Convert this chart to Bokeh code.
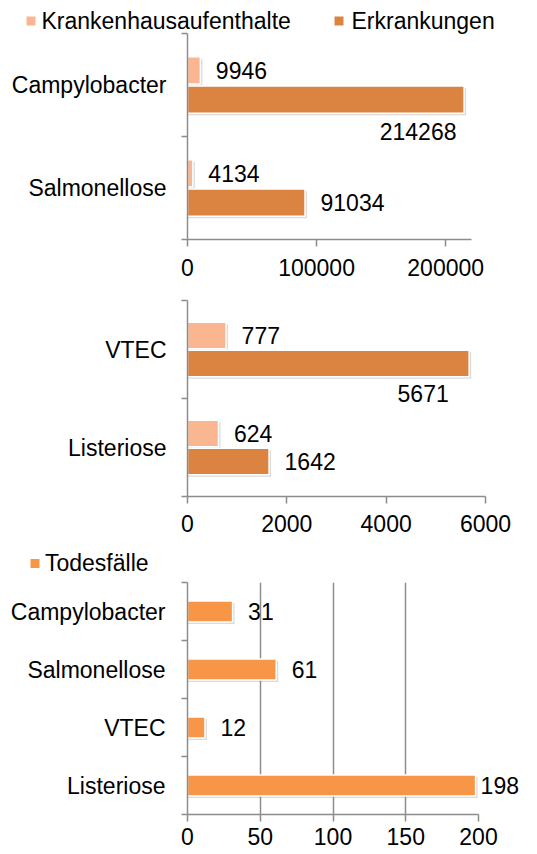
from bokeh.plotting import figure
from bokeh.layouts import column
from bokeh.models import (FixedTicker, Range1d, ColumnDataSource, BasicTickFormatter)
from bokeh.embed import file_html
from bokeh.resources import INLINE
from bokeh.core.properties import value

# ---------------- data ----------------
top_categories = ["Campylobacter", "Salmonellose"]
top_krankenhaus = [9946, 4134]
top_erkrankungen = [214268, 91034]
top_ticks = [0, 100000, 200000]
top_xmax = 220000

mid_categories = ["VTEC", "Listeriose"]
mid_krankenhaus = [777, 624]
mid_erkrankungen = [5671, 1642]
mid_ticks = [0, 2000, 4000, 6000]
mid_xmax = 6000

death_categories = ["Campylobacter", "Salmonellose", "VTEC", "Listeriose"]
death_values = [31, 61, 12, 198]
death_ticks = [0, 50, 100, 150, 200]
death_xmax = 200

series_names = ["Krankenhausaufenthalte", "Erkrankungen", "Todesfälle"]

# ---------------- style ----------------
FONT = "Liberation Sans"
FS = "23px"
AXIS_COLOR = "#8c8c8c"
C_KRANK = "#F9B691"
C_ERK = "#DB8441"
C_TOD = "#F79646"
LEFT = 187


def base_fig(fw, fh, br, bt, bb, xmax, ncat, cats, xticks, x_standoff, y_standoff):
    p = figure(frame_width=fw, frame_height=fh, x_range=Range1d(0, xmax), y_range=Range1d(0, ncat),
               output_backend="svg", toolbar_location=None, title=None,
               min_border_left=LEFT, min_border_right=br, min_border_top=bt, min_border_bottom=bb)
    p.outline_line_color = None
    p.xgrid.visible = False
    p.ygrid.visible = False
    centers = [ncat - i - 0.5 for i in range(ncat)]
    bounds = list(range(ncat + 1))
    xa = p.xaxis[0]
    xa.ticker = FixedTicker(ticks=xticks, minor_ticks=[])
    xa.formatter = BasicTickFormatter(use_scientific=False)
    xa.axis_line_color = AXIS_COLOR
    xa.axis_line_width = 1.5
    xa.major_tick_line_color = AXIS_COLOR
    xa.major_tick_line_width = 1.5
    xa.major_tick_out = 7
    xa.major_tick_in = 0
    xa.minor_tick_line_color = None
    xa.minor_tick_out = 0
    xa.major_label_standoff = x_standoff
    xa.major_label_text_font = FONT
    xa.major_label_text_font_size = FS
    xa.major_label_text_color = "black"
    ya = p.yaxis[0]
    ya.ticker = FixedTicker(ticks=centers, minor_ticks=bounds)
    ya.major_label_overrides = {c: name for c, name in zip(centers, cats)}
    ya.axis_line_color = AXIS_COLOR
    ya.axis_line_width = 1.5
    ya.major_tick_line_color = None
    ya.major_tick_out = 0
    ya.major_tick_in = 0
    ya.minor_tick_line_color = AXIS_COLOR
    ya.minor_tick_line_width = 1.5
    ya.minor_tick_out = 6
    ya.minor_tick_in = 0
    ya.major_label_standoff = y_standoff
    ya.major_label_text_font = FONT
    ya.major_label_text_font_size = FS
    ya.major_label_text_color = "black"
    return p, centers


def bars(p, ys, vals, h, color, px_x, px_y):
    sh = ColumnDataSource(dict(y=[y - 2 * px_y for y in ys], right=[v + 2 * px_x for v in vals]))
    p.hbar(y="y", left=0, right="right", height=h, source=sh,
           fill_color="#7f7f7f", fill_alpha=0.28, line_color=None)
    src = ColumnDataSource(dict(y=ys, right=vals))
    p.hbar(y="y", left=0, right="right", height=h, source=src,
           fill_color=color, line_color="white", line_width=1.5)


def labels(p, ys, vals, xmax, below_ok=True):
    near, far, edge = dict(x=[], y=[], t=[]), dict(x=[], y=[], t=[]), dict(x=[], y=[], t=[])
    for y, v in zip(ys, vals):
        frac = v / xmax
        if frac > 0.85 and below_ok:
            far["x"].append(v); far["y"].append(y - 0.31); far["t"].append(str(v))
        elif frac > 0.95:
            edge["x"].append(v); edge["y"].append(y); edge["t"].append(str(v))
        else:
            near["x"].append(v); near["y"].append(y); near["t"].append(str(v))
    for d, align, xo in ((near, "left", 15.5), (far, "center", -46), (edge, "left", 5)):
        if not d["x"]:
            continue
        r = p.text(x="x", y="y", text="t", source=ColumnDataSource(d),
                   text_align=align, text_baseline="middle", x_offset=xo,
                   text_font=value(FONT), text_font_size=FS, text_color="black")
        r.level = "overlay"


def legend(p, ncat, px_x, px_y, entries):
    # entries: (label, colour, square centre dx, dy, text dx, dy) in pixels from frame top-left
    for name, color, sdx, sdy, tdx, tdy in entries:
        r = p.rect(x=[sdx * px_x], y=[ncat - sdy * px_y], width=9, height=9,
                   width_units="screen", height_units="screen",
                   fill_color=color, line_color=None)
        r.level = "overlay"
        t = p.text(x=[0], y=[ncat], text=[name], x_offset=tdx, y_offset=tdy,
                   text_align="left", text_baseline="middle",
                   text_font=value(FONT), text_font_size=FS, text_color="black")
        t.level = "overlay"


# ---------------- panel 1 ----------------
fw1, fh1 = 284, 206
p1, c1 = base_fig(fw1, fh1, 537 - LEFT - fw1, 33, 46, top_xmax, 2, top_categories, top_ticks, 12, 15)
px_x, px_y = top_xmax / fw1, 2 / fh1
bars(p1, [c + 0.142 for c in c1], top_krankenhaus, 0.265, C_KRANK, px_x, px_y)
bars(p1, [c - 0.142 for c in c1], top_erkrankungen, 0.265, C_ERK, px_x, px_y)
labels(p1, [c + 0.142 for c in c1], top_krankenhaus, top_xmax)
labels(p1, [c - 0.142 for c in c1], top_erkrankungen, top_xmax)
legend(p1, 2, px_x, px_y, [(series_names[0], C_KRANK, -156.5, -12.5, -146, -13),
                           (series_names[1], C_ERK, 151.5, -12.5, 164, -13)])

# ---------------- panel 2 ----------------
fw2, fh2 = 298, 196
p2, c2 = base_fig(fw2, fh2, 537 - LEFT - fw2, 15, 49, mid_xmax, 2, mid_categories, mid_ticks, 11, 15)
px_x, px_y = mid_xmax / fw2, 2 / fh2
bars(p2, [c + 0.142 for c in c2], mid_krankenhaus, 0.27, C_KRANK, px_x, px_y)
bars(p2, [c - 0.142 for c in c2], mid_erkrankungen, 0.27, C_ERK, px_x, px_y)
labels(p2, [c + 0.142 for c in c2], mid_krankenhaus, mid_xmax)
labels(p2, [c - 0.142 for c in c2], mid_erkrankungen, mid_xmax)

# ---------------- panel 3 ----------------
fw3, fh3 = 291, 232
p3, c3 = base_fig(fw3, fh3, 537 - LEFT - fw3, 37, 40, death_xmax, 4, death_categories, death_ticks, 6, 16)
p3.xgrid.visible = True
p3.xgrid.ticker = FixedTicker(ticks=death_ticks[1:], minor_ticks=[])
p3.xgrid.grid_line_color = AXIS_COLOR
p3.xgrid.grid_line_width = 1.5
px_x, px_y = death_xmax / fw3, 4 / fh3
bars(p3, c3, death_values, 0.36, C_TOD, px_x, px_y)
labels(p3, c3, death_values, death_xmax, below_ok=False)
legend(p3, 4, px_x, px_y, [(series_names[2], C_TOD, -152.5, -19, -142.5, -20)])

layout = column(p1, p2, p3, spacing=0)
open("out.html", "w").write(file_html(layout, INLINE))
